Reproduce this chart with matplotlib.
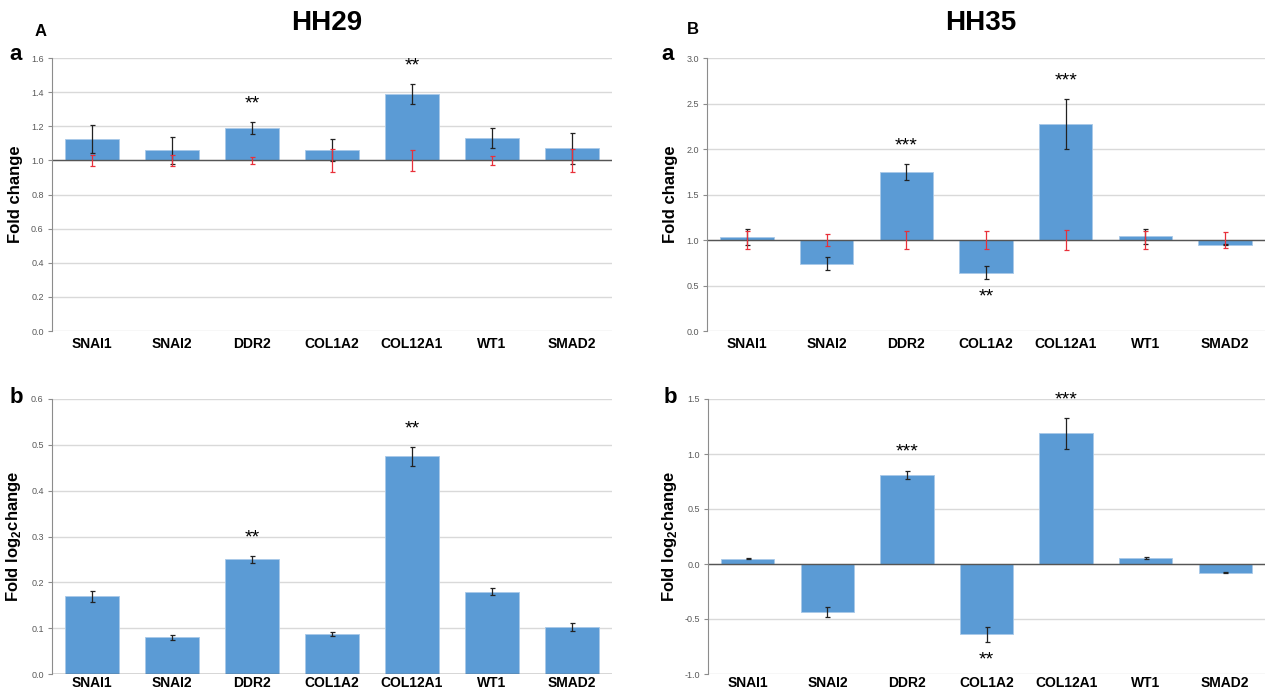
import matplotlib
matplotlib.use("Agg")
import matplotlib.pyplot as plt
import numpy as np

plt.rcParams['font.family'] = ['Liberation Sans', 'DejaVu Sans']
plt.rcParams['mathtext.fontset'] = 'custom'
plt.rcParams['mathtext.rm'] = 'Liberation Sans:bold'
plt.rcParams['mathtext.bf'] = 'Liberation Sans:bold'

genes = ["SNAI1", "SNAI2", "DDR2", "COL1A2", "COL12A1", "WT1", "SMAD2"]

# HH29 fold change (bars start from 1.0)
hh29_fc = [1.125, 1.058, 1.19, 1.06, 1.39, 1.13, 1.07]
hh29_fc_err = [0.08, 0.078, 0.035, 0.063, 0.06, 0.057, 0.092]
hh29_ctrl_err = [0.033, 0.033, 0.02, 0.068, 0.06, 0.028, 0.068]
hh29_fc_stars = ["", "", "**", "", "**", "", ""]

# HH35 fold change
hh35_fc = [1.03, 0.74, 1.75, 0.64, 2.27, 1.04, 0.95]
hh35_fc_err = [0.09, 0.07, 0.09, 0.07, 0.275, 0.08, 0.01]
hh35_ctrl_err = [0.095, 0.07, 0.1, 0.1, 0.11, 0.095, 0.09]
hh35_fc_stars = ["", "", "***", "**", "***", "", ""]

# HH29 fold log2 change
hh29_log = [0.17, 0.08, 0.25, 0.087, 0.475, 0.18, 0.102]
hh29_log_err = [0.012, 0.005, 0.007, 0.005, 0.021, 0.008, 0.009]
hh29_log_stars = ["", "", "**", "", "**", "", ""]

# HH35 fold log2 change
hh35_log = [0.05, -0.435, 0.81, -0.64, 1.19, 0.055, -0.08]
hh35_log_err = [0.005, 0.045, 0.04, 0.065, 0.14, 0.005, 0.003]
hh35_log_stars = ["", "", "***", "**", "***", "", ""]

bar_color = "#5b9bd5"
grid_color = "#d9d9d9"
tick_color = "#595959"

fig = plt.figure(figsize=(12.65, 6.95), dpi=100)

W, H = 1265, 695
def frac(left, top, right, bottom):
    return [left / W, 1 - bottom / H, (right - left) / W, (bottom - top) / H]


def panel(rect, values, errs, base, ylim, step, stars, ylabel, label_off, ctrl_err=None):
    ax = fig.add_axes(rect)
    x = np.arange(len(genes))
    vals = np.array(values)
    ax.bar(x, vals - base, bottom=base, width=0.67, color=bar_color,
           edgecolor="#a9c9e8", linewidth=0.6, zorder=2)
    ax.errorbar(x, vals, yerr=errs, fmt="none", ecolor="#222222",
                elinewidth=0.9, capsize=1.8, capthick=0.9, zorder=3)
    if ctrl_err is not None:
        ax.errorbar(x, np.full(len(x), base), yerr=ctrl_err, fmt="none",
                    ecolor="#e8303a", elinewidth=0.9, capsize=1.8,
                    capthick=0.9, zorder=4)
    ax.axhline(base, color="#555555", lw=1.0, zorder=2.5)
    ax.set_ylim(*ylim)
    ax.set_xlim(-0.5, len(genes) - 0.5)
    ticks = np.arange(ylim[0], ylim[1] + step / 2, step)
    ax.set_yticks(ticks)
    ax.set_yticklabels([f"{t:.1f}" for t in ticks], fontsize=6.5, color=tick_color)
    ax.tick_params(axis="y", length=3, width=0.8, color="#8c8c8c", pad=3)
    ax.set_xticks(x)
    ax.set_xticklabels([])
    ax.tick_params(axis="x", length=0)
    for xi, g in zip(x, genes):
        ax.text(xi, -label_off, g, transform=ax.get_xaxis_transform(),
                ha="center", va="top", fontsize=10, fontweight="bold")
    ax.grid(axis="y", color=grid_color, lw=1.0, zorder=0)
    ax.set_axisbelow(True)
    for s in ("top", "right", "bottom"):
        ax.spines[s].set_visible(False)
    ax.spines["left"].set_color("#8c8c8c")
    ax.set_ylabel(ylabel, fontsize=12, fontweight="bold")
    ax.yaxis.set_label_coords(-0.052, 0.5)
    rng = ylim[1] - ylim[0]
    for xi, v, e, s in zip(x, vals, errs, stars):
        if not s:
            continue
        if v >= base:
            ax.text(xi, v + e + 0.035 * rng, s, ha="center", va="bottom", fontsize=14)
        else:
            ax.text(xi, v - e - 0.035 * rng, s, ha="center", va="top", fontsize=14)
    return ax


ax1 = panel(frac(52, 58, 612, 331), hh29_fc, hh29_fc_err, 1.0, (0.0, 1.6), 0.2,
            hh29_fc_stars, "Fold change", 0.022, hh29_ctrl_err)
ax2 = panel(frac(707, 58, 1265, 331), hh35_fc, hh35_fc_err, 1.0, (0.0, 3.0), 0.5,
            hh35_fc_stars, "Fold change", 0.022, hh35_ctrl_err)
ax3 = panel(frac(52, 399, 612, 674), hh29_log, hh29_log_err, 0.0, (0.0, 0.6), 0.1,
            hh29_log_stars, r"Fold log$_{\mathbf{2}}$change", 0.008)
ax4 = panel(frac(708, 399, 1265, 674), hh35_log, hh35_log_err, 0.0, (-1.0, 1.5), 0.5,
            hh35_log_stars, r"Fold log$_{\mathbf{2}}$change", 0.008)

fig.text(41 / W, 1 - 31 / H, "A", fontsize=12, fontweight="bold", ha="center", va="center")
fig.text(693 / W, 1 - 30 / H, "B", fontsize=12, fontweight="bold", ha="center", va="center")
fig.text(327 / W, 1 - 23 / H, "HH29", fontsize=20, fontweight="bold", ha="center", va="center")
fig.text(981 / W, 1 - 23 / H, "HH35", fontsize=20, fontweight="bold", ha="center", va="center")
fig.text(16 / W, 1 - 55 / H, "a", fontsize=16, fontweight="bold", ha="center", va="center")
fig.text(16 / W, 1 - 398 / H, "b", fontsize=16, fontweight="bold", ha="center", va="center")
fig.text(668 / W, 1 - 55 / H, "a", fontsize=16, fontweight="bold", ha="center", va="center")
fig.text(670 / W, 1 - 398 / H, "b", fontsize=16, fontweight="bold", ha="center", va="center")

fig.savefig("out.png", dpi=100)
